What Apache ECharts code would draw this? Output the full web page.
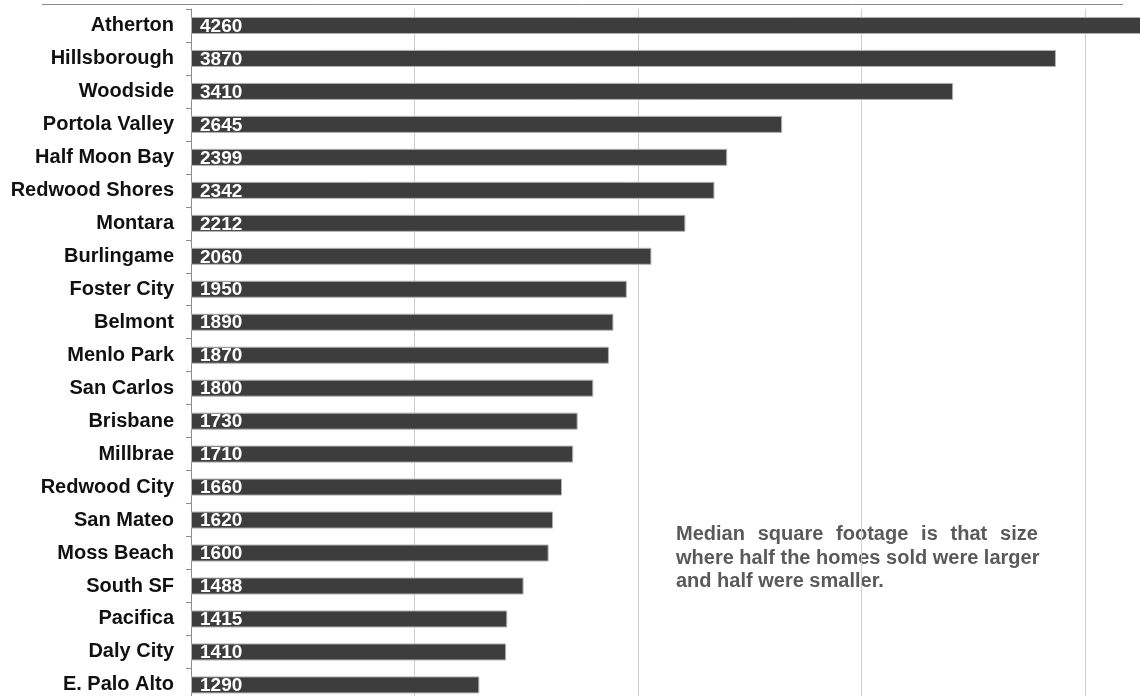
<!DOCTYPE html>
<html>
<head>
<meta charset="utf-8">
<title>Median Square Footage</title>
<script src="https://cdn.jsdelivr.net/npm/echarts@6/dist/echarts.min.js"></script>
<style>
  html, body { margin: 0; padding: 0; background: #ffffff; width: 1140px; height: 696px; overflow: hidden; }
  #chart { width: 1320px; height: 710px; }
</style>
</head>
<body>
<div id="chart"></div>
<script>
// Median square footage of homes sold, by city
const cities = [
  'Atherton', 'Hillsborough', 'Woodside', 'Portola Valley', 'Half Moon Bay',
  'Redwood Shores', 'Montara', 'Burlingame', 'Foster City', 'Belmont',
  'Menlo Park', 'San Carlos', 'Brisbane', 'Millbrae', 'Redwood City',
  'San Mateo', 'Moss Beach', 'South SF', 'Pacifica', 'Daly City', 'E. Palo Alto'
];
const medianSqFt = [
  4260, 3870, 3410, 2645, 2399,
  2342, 2212, 2060, 1950, 1890,
  1870, 1800, 1730, 1710, 1660,
  1620, 1600, 1488, 1415, 1410, 1290
];
const axisMin = 0;
const axisMax = 5000;
const axisStep = 1000;

const noteFirstWords = ['Median', 'square', 'footage', 'is', 'that', 'size'];
const noteRest = ['where half the homes sold were larger', 'and half were smaller.'];

const FONT = '"Liberation Sans", Arial, Helvetica, sans-serif';
const NOTE_FONT = 'bold 20px ' + FONT;

const chart = echarts.init(document.getElementById('chart'), null, { renderer: 'canvas' });

// first line of the note is justified: widen the gaps between its words
const noteText = noteFirstWords.join('{g| }') + '\n' + noteRest.join('\n');

chart.setOption({
  animation: false,
  backgroundColor: '#ffffff',
  grid: { left: 191, top: 9, width: 1117.5, height: 692.4, containLabel: false },
  xAxis: {
    type: 'value',
    min: axisMin,
    max: axisMax,
    interval: axisStep,
    axisLine: { show: false },
    axisTick: { show: false },
    axisLabel: { show: false },
    splitLine: { show: true, lineStyle: { color: '#cfcfc6', width: 1 } }
  },
  yAxis: {
    type: 'category',
    data: cities,
    inverse: true,
    axisLine: { show: true, lineStyle: { color: '#8c8c8c', width: 1 } },
    axisTick: { show: true, length: 5, lineStyle: { color: '#8c8c8c' } },
    axisLabel: {
      margin: 17,
      color: '#111111',
      fontFamily: FONT,
      fontWeight: 'bold',
      fontSize: 20
    },
    splitLine: { show: false }
  },
  series: [{
    type: 'bar',
    data: medianSqFt,
    barWidth: 17,
    itemStyle: { color: '#3d3d3d', borderColor: '#b0b0b0', borderWidth: 1 },
    label: {
      show: true,
      position: 'insideLeft',
      distance: 9,
      color: '#ffffff',
      fontFamily: FONT,
      fontWeight: 'bold',
      fontSize: 19,
      offset: [0, 1]
    }
  }],
  graphic: [
    {
      type: 'line',
      shape: { x1: 42, y1: 4.5, x2: 1123, y2: 4.5 },
      style: { stroke: '#8a8a8a', lineWidth: 1 },
      silent: true
    },
    {
      type: 'text',
      left: 676,
      top: 523,
      style: {
        text: noteText,
        fill: '#5a5a5a',
        font: NOTE_FONT,
        lineHeight: 23.5,
        rich: { g: { width: 12.8, font: NOTE_FONT, lineHeight: 23.5 } }
      },
      silent: true
    }
  ]
});
</script>
</body>
</html>
